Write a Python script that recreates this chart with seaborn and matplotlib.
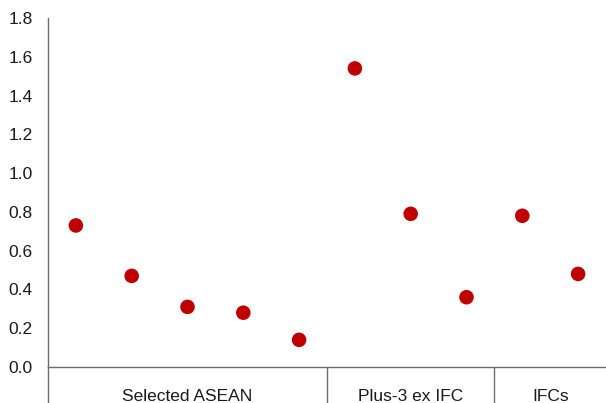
import seaborn as sns
import matplotlib.pyplot as plt
import matplotlib.transforms as mtransforms
import pandas as pd

# data
groups = ["Selected ASEAN", "Plus-3 ex IFC", "IFCs"]
group_sizes = [5, 3, 2]
values = [0.73, 0.47, 0.31, 0.28, 0.14, 1.54, 0.79, 0.36, 0.78, 0.48]
yticks = [0.0, 0.2, 0.4, 0.6, 0.8, 1.0, 1.2, 1.4, 1.6, 1.8]

df = pd.DataFrame({"pos": list(range(len(values))), "value": values})

sns.set_style("white")
plt.rcParams['font.family'] = ['Liberation Sans', 'DejaVu Sans']

fig = plt.figure(figsize=(6.06, 4.03), dpi=100)
ax = fig.add_axes([48 / 606, 36 / 403, 1 - 48 / 606, 349 / 403])

sns.scatterplot(data=df, x="pos", y="value", ax=ax, color="#c00000",
                s=110, edgecolor="none", legend=False, clip_on=False)

line_col = "#6e6e6e"
ax.set_xlim(-0.5, 9.5)
ax.set_ylim(0, 1.8)
ax.set_yticks(yticks)
ax.set_yticklabels([f"{t:.1f}" for t in yticks], fontsize=12.5, color="#1a1a1a")
ax.set_xticks([])
ax.set_xlabel("")
ax.set_ylabel("")
ax.tick_params(axis="y", length=0, pad=11)

for side in ["top", "right"]:
    ax.spines[side].set_visible(False)
ax.spines["left"].set_color(line_col)
ax.spines["bottom"].set_color(line_col)
ax.spines["left"].set_linewidth(1.0)
ax.spines["bottom"].set_linewidth(1.0)
ax.spines["bottom"].set_bounds(-0.5, 10.0)

# group separators below the axis
trans = mtransforms.blended_transform_factory(ax.transData, ax.transAxes)
start = -0.5
bounds = [start]
for n in group_sizes:
    start += n
    bounds.append(start)
for b in bounds[:-1]:
    ax.plot([b, b], [0, -0.11], color=line_col, lw=1.0, transform=trans, clip_on=False)

for g, lo, hi in zip(groups, bounds[:-1], bounds[1:]):
    ax.text((lo + hi) / 2, -0.097, g, transform=trans, ha="center", va="baseline",
            fontsize=12.5, color="#1a1a1a")

fig.savefig("out.png", dpi=100)
